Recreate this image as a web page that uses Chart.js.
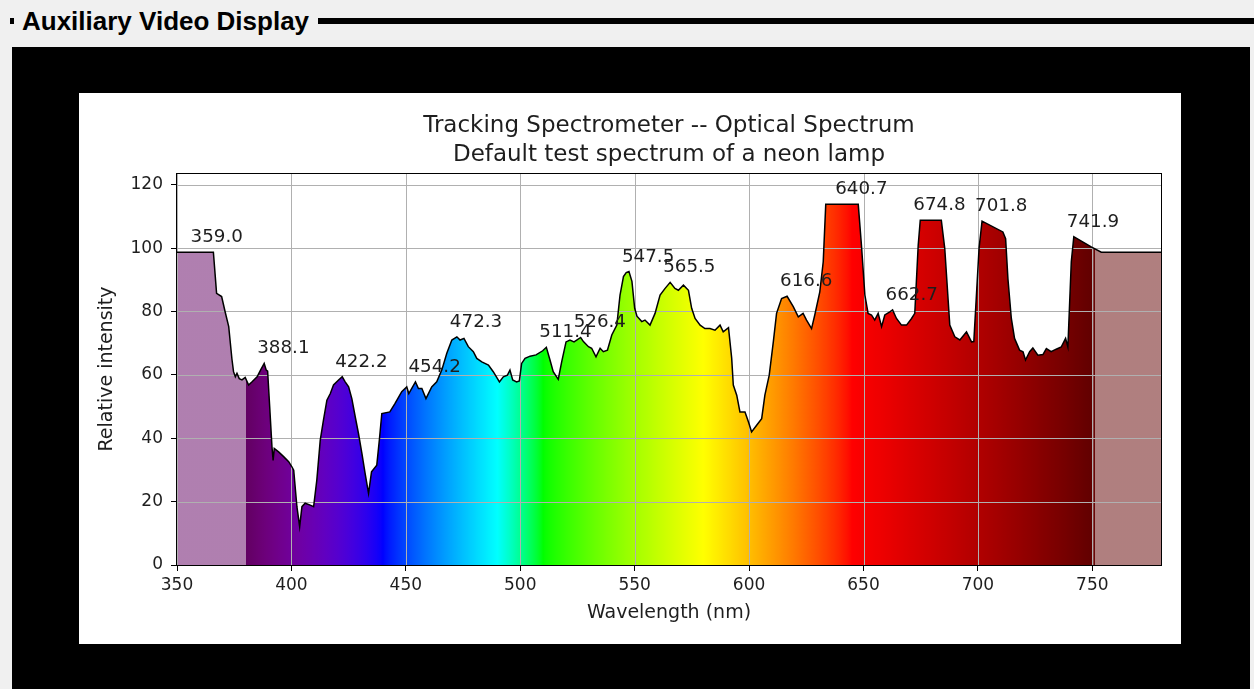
<!DOCTYPE html>
<html>
<head>
<meta charset="utf-8">
<title>Auxiliary Video Display</title>
<script src="https://cdn.jsdelivr.net/npm/chart.js@4/dist/chart.umd.min.js"></script>
<style>
  html, body { margin: 0; padding: 0; }
  body {
    width: 1254px; height: 689px; position: relative; overflow: hidden;
    background: #f0f0f0; font-family: 'Liberation Sans', Arial, sans-serif;
  }
  #caption { position: absolute; left: 22px; top: 6px; font-size: 26px; font-weight: bold; color: #000; line-height: 30px; }
  #stub { position: absolute; left: 10px; top: 18px; width: 4px; height: 6px; background: #000; }
  #rule { position: absolute; left: 318px; right: 0; top: 18px; height: 6px; background: #000; }
  #screen { position: absolute; left: 12px; top: 47px; width: 1238px; height: 642px; background: #000; }
  #panel { position: absolute; left: 79px; top: 93px; width: 1102px; height: 551px; background: #fff; }
  canvas { display: block; }
</style>
</head>
<body>
<div id="stub"></div>
<div id="caption">Auxiliary Video Display</div>
<div id="rule"></div>
<div id="screen"></div>
<div id="panel"><canvas id="spectrum" width="1102" height="551"></canvas></div>

<script>
const titleLines = ['Tracking Spectrometer -- Optical Spectrum', 'Default test spectrum of a neon lamp'];

// measured spectrum (nm, relative intensity)
const wavelengths = [
  350, 359.0, 365.9, 367.3, 369.5, 371, 372.6, 374, 374.7, 375.5, 376.2, 377.2, 378.4, 379.8,
  381.3, 382.8, 385, 386.5, 388.1, 389, 389.6, 390.5, 391.5, 392, 392.5, 394.4, 396.6, 398.8,
  400.2, 401, 402.4, 403.6, 404.6, 406, 408.2, 409.7, 411.1, 412.6, 414, 415.5, 417, 418.4,
  420.6, 422.2, 423.5, 425, 426.4, 427.9, 429.3, 430.8, 432.2, 433.7, 435, 437.3, 438.5, 439.5,
  443, 445.3, 448.2, 450.4, 451.3, 454.2, 455.5, 457, 458.8, 461.3, 463.5, 465.7, 467.9, 470.1,
  472.3, 473.7, 475.4, 477.3, 479.5, 481, 483.2, 486.1, 488.2, 490.9, 492.6, 494.4, 495.5, 496.7,
  498.4, 499.6, 500.6, 502.1, 504.3, 506.9, 509.8, 511.4, 513, 514.4, 516.6, 518.1, 520, 521.7,
  523.5, 526.4, 527.6, 529.8, 531.2, 533.1, 534.9, 536.3, 538.1, 540, 542.2, 543.6, 545.1, 546.3,
  547.5, 548.8, 550, 551, 553.1, 554.5, 556.7, 558.9, 561.1, 563.3, 565.5, 567.6, 569.1, 571.3,
  573.5, 574.9, 576.4, 578.6, 580.7, 582.9, 585.1, 587.3, 588.7, 591, 592.4, 593.1, 594.6, 596,
  598.2, 599.7, 601.1, 603.3, 605.5, 606.9, 608.8, 610.6, 612, 614.2, 616.6, 619.3, 621.5, 623.6,
  625.1, 627.3, 628.7, 630.9, 632.4, 633.5, 640.7, 647.7, 649.1, 650.6, 652, 653.5, 654.9, 656.4,
  657.9, 659.3, 661.5, 662.7, 664.4, 666.6, 668.8, 671, 672.4, 673.9, 674.8, 684, 685.5, 687.7,
  689.9, 692.1, 695, 697.2, 698.2, 700.5, 701.8, 710.9, 712.1, 713.1, 714.6, 716, 718.2, 719.7,
  720.8, 722.6, 724, 726.2, 728.4, 729.9, 732, 734.2, 736.4, 738.3, 739.3, 740.8, 741.9, 749.5,
  753.9, 780
];
const intensity = [
  98.7, 98.7, 98.7, 85.7, 84.7, 80, 75.2, 65, 61, 59.4, 60.5, 58.8, 58.4, 59.2,
  56.8, 57.8, 59.4, 61.5, 63.6, 61.5, 61.2, 50, 37.3, 33, 36.8, 35.7, 34.2, 32.6,
  31, 29.9, 18.4, 12.1, 18.4, 19.5, 18.9, 18.4, 26.8, 39.4, 45.7, 52, 54.1, 56.8,
  58.4, 59.4, 57.8, 56.2, 52.5, 46.7, 41.5, 35.2, 28.9, 22.6, 29.4, 31.5, 40, 47.8,
  48.3, 51, 54.7, 56.2, 54.1, 57.8, 55.7, 55.7, 52.5, 56.2, 57.8, 61.5, 66.8, 71,
  72, 71, 71.5, 68.9, 67.3, 65.2, 64.1, 63.1, 61, 57.8, 59.4, 59.9, 61.5, 58.4,
  57.8, 58.1, 63.6, 65.2, 65.9, 66.3, 67.6, 68.7, 64.7, 61, 58.6, 64.1, 70.4, 71,
  70.4, 71.8, 70.5, 68.9, 68.4, 65.7, 68.4, 67.3, 67.8, 72.6, 75.7, 85.2, 91, 92.3,
  92.6, 89.5, 81, 78.5, 76.8, 77.3, 75.7, 79.4, 85.2, 87.3, 89.2, 87.3, 86.7, 88.3,
  86.7, 81, 77.8, 75.7, 74.6, 74.6, 74.1, 75.7, 73.6, 74.9, 65.2, 56.8, 53.6, 48.3,
  48.3, 45.2, 42, 44.1, 46.2, 53.6, 59.9, 70.5, 79.4, 84.1, 84.8, 81.5, 78.3, 79.4,
  77.3, 74.6, 78.9, 86.2, 95.7, 113.8, 113.8, 113.8, 100.9, 85.2, 79.4, 78.9, 77.3, 79.4,
  75.2, 78.9, 79.9, 80.5, 77.8, 75.7, 75.7, 77.8, 79.4, 100.9, 108.8, 108.8, 99.9, 75.7,
  72, 71, 73.6, 70.4, 70.5, 100, 108.5, 105.1, 103, 90.4, 77.8, 71.5, 67.8, 67.3,
  64.7, 67.3, 68.5, 66.2, 66.4, 68.3, 67.3, 68.1, 68.8, 71.5, 68.8, 95.7, 103.6, 100.4,
  98.7, 98.7
];

// wavelengths of the detected peaks, labelled on the plot
const peaks = [359.0, 388.1, 422.2, 454.2, 472.3, 511.4, 526.4, 547.5, 565.5, 616.6, 640.7, 662.7, 674.8, 701.8, 741.9];

const xTicks = [350, 400, 450, 500, 550, 600, 650, 700, 750];
const yTicks = [0, 20, 40, 60, 80, 100, 120];
const xMin = 350, xMax = 780;
const yMin = 0, yMax = 123.7;

const FONT = 'DejaVu Sans';
const TEXT = '#1e1e1e';

// approximate visible colour for a wavelength, half transparent outside 380-750
function wavelengthToRgba(w, gamma = 0.8) {
  const a = (w >= 380 && w <= 750) ? 1 : 0.5;
  w = Math.min(Math.max(w, 380), 750);
  let r = 0, g = 0, b = 0;
  if (w <= 440) {
    const att = 0.3 + 0.7 * (w - 380) / 60;
    r = Math.pow((440 - w) / 60 * att, gamma);
    b = Math.pow(att, gamma);
  } else if (w <= 490) {
    g = Math.pow((w - 440) / 50, gamma); b = 1;
  } else if (w <= 510) {
    g = 1; b = Math.pow((510 - w) / 20, gamma);
  } else if (w <= 580) {
    r = Math.pow((w - 510) / 70, gamma); g = 1;
  } else if (w <= 645) {
    r = 1; g = Math.pow((645 - w) / 65, gamma);
  } else {
    const att = 0.3 + 0.7 * (750 - w) / 105;
    r = Math.pow(att, gamma);
  }
  return `rgba(${Math.round(r * 255)},${Math.round(g * 255)},${Math.round(b * 255)},${a})`;
}

function spectrumFill(context) {
  const chart = context.chart;
  if (!chart.chartArea) return 'rgba(0,0,0,0)';
  const xs = chart.scales.x;
  const x0 = xs.getPixelForValue(xMin), x1 = xs.getPixelForValue(xMax);
  const grad = chart.ctx.createLinearGradient(x0, 0, x1, 0);
  const span = xMax - xMin;
  for (let w = xMin; w <= xMax; w += 1) {
    if (w === 380 || w === 751) {
      // hard edge between the dimmed and the visible band
      grad.addColorStop((w - 0.001 - xMin) / span, wavelengthToRgba(w - 1));
    }
    grad.addColorStop((w - xMin) / span, wavelengthToRgba(w));
  }
  grad.addColorStop((750.001 - xMin) / span, wavelengthToRgba(751));
  return grad;
}

function valueAt(w) {
  const i = wavelengths.indexOf(w);
  return i >= 0 ? intensity[i] : NaN;
}

const points = wavelengths.map((w, i) => ({ x: w, y: intensity[i] }));

const plotDecor = {
  id: 'plotDecor',
  beforeDatasetDraw(chart, args) {
    if (args.index !== 1) return;
    const { ctx, chartArea: a, scales: { x, y } } = chart;
    ctx.save();
    ctx.strokeStyle = '#b0b0b0';
    ctx.lineWidth = 1;
    ctx.beginPath();
    xTicks.forEach(v => {
      const px = Math.round(x.getPixelForValue(v)) + 0.5;
      ctx.moveTo(px, a.top); ctx.lineTo(px, a.bottom);
    });
    yTicks.forEach(v => {
      const py = Math.round(y.getPixelForValue(v)) + 0.5;
      ctx.moveTo(a.left, py); ctx.lineTo(a.right, py);
    });
    ctx.stroke();
    ctx.restore();
  },
  afterDatasetsDraw(chart) {
    const { ctx, scales: { x, y } } = chart;
    ctx.save();
    ctx.font = `18.3px "${FONT}"`;
    ctx.fillStyle = TEXT;
    ctx.textAlign = 'left';
    ctx.textBaseline = 'alphabetic';
    peaks.forEach(p => {
      ctx.fillText(p.toFixed(1), x.getPixelForValue(p) - 7, y.getPixelForValue(valueAt(p)) - 10);
    });
    ctx.restore();
  },
  afterDraw(chart) {
    const { ctx, chartArea: a } = chart;
    ctx.save();
    ctx.strokeStyle = '#000';
    ctx.lineWidth = 1;
    ctx.strokeRect(Math.round(a.left) - 0.5, Math.round(a.top) + 0.5,
      Math.round(a.right - a.left) + 1, Math.round(a.bottom - a.top));
    // two-line title centred over the axes
    ctx.font = `23px "${FONT}"`;
    ctx.fillStyle = TEXT;
    ctx.textAlign = 'center';
    ctx.textBaseline = 'middle';
    const cx = (a.left + a.right) / 2;
    ctx.fillText(titleLines[0], cx, a.top - 47);
    ctx.fillText(titleLines[1], cx, a.top - 18);
    ctx.restore();
  }
};

new Chart(document.getElementById('spectrum'), {
  type: 'line',
  data: {
    datasets: [
      {
        data: points,
        borderWidth: 0,
        pointRadius: 0,
        fill: 'origin',
        backgroundColor: spectrumFill,
        order: 2
      },
      {
        data: points,
        borderColor: '#000',
        borderWidth: 1.5,
        pointRadius: 0,
        fill: false,
        order: 1
      }
    ]
  },
  options: {
    responsive: false,
    animation: false,
    devicePixelRatio: 1,
    parsing: false,
    layout: { padding: { left: 0, right: 20, top: 80, bottom: 0 } },
    plugins: {
      legend: { display: false },
      tooltip: { enabled: false },
      title: { display: false }
    },
    elements: { line: { tension: 0 } },
    scales: {
      x: {
        type: 'linear',
        min: xMin,
        max: xMax,
        afterBuildTicks: s => { s.ticks = xTicks.map(v => ({ value: v })); },
        afterFit: s => { s.height = 79; },
        border: { display: false },
        grid: { drawOnChartArea: false, drawTicks: true, tickLength: 6, tickColor: '#000', color: 'rgba(0,0,0,0)' },
        ticks: { padding: 4, color: TEXT, font: { family: FONT, size: 17 }, maxRotation: 0 },
        title: {
          display: true, text: 'Wavelength (nm)', color: TEXT,
          font: { family: FONT, size: 19 }, padding: { top: 0, bottom: 20 }
        }
      },
      y: {
        type: 'linear',
        min: yMin,
        max: yMax,
        afterBuildTicks: s => { s.ticks = yTicks.map(v => ({ value: v })); },
        afterFit: s => { s.width = 98; },
        border: { display: false },
        grid: { drawOnChartArea: false, drawTicks: true, tickLength: 6, tickColor: '#000', color: 'rgba(0,0,0,0)' },
        ticks: { padding: 8, color: TEXT, font: { family: FONT, size: 17 } },
        title: {
          display: true, text: 'Relative intensity', color: TEXT,
          font: { family: FONT, size: 19 }, padding: { top: 17, bottom: 0 }
        }
      }
    }
  },
  plugins: [plotDecor]
});
</script>
</body>
</html>
